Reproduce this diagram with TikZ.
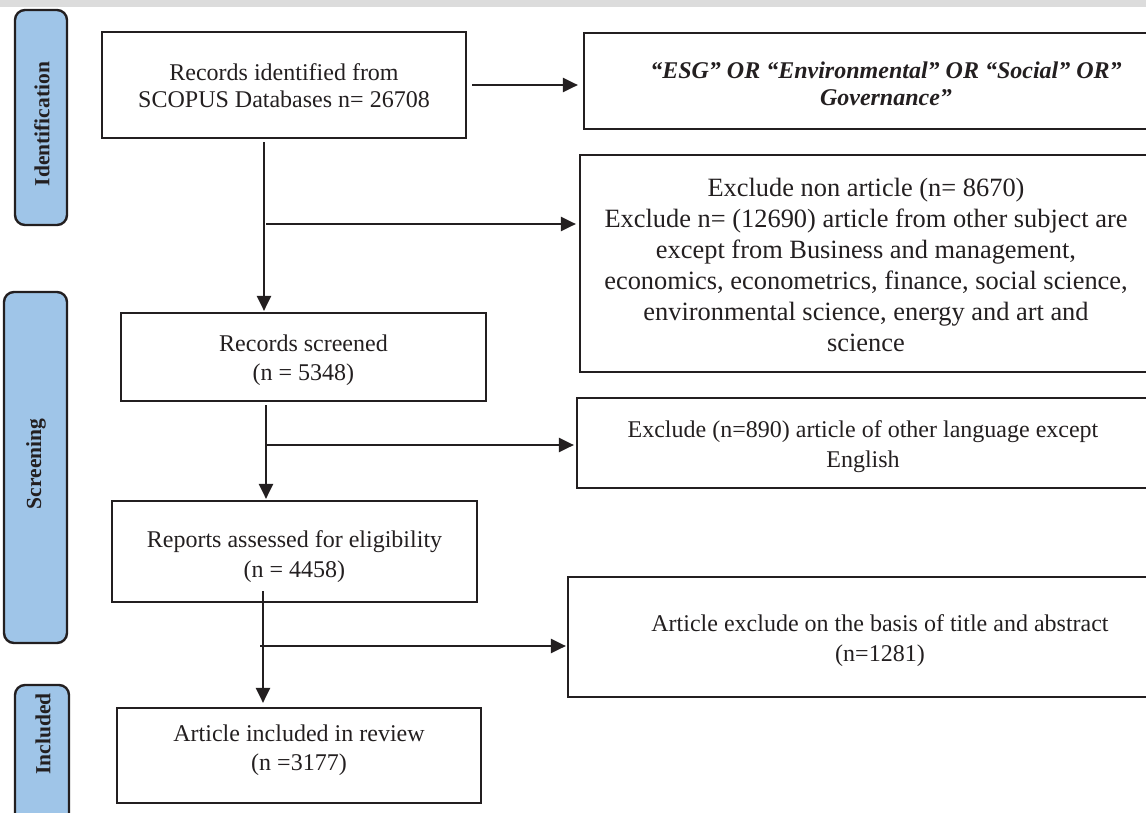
\documentclass[tikz,border=0pt]{standalone}
\usepackage{fontspec}
\setmainfont{Liberation Serif}
\usetikzlibrary{arrows.meta}
\definecolor{ink}{HTML}{231F20}
\definecolor{sideblue}{HTML}{9FC5E8}
\definecolor{band}{HTML}{DCDCDC}
\begin{document}
\begin{tikzpicture}[x=1pt,y=-1pt,
  box/.style={draw=ink, line width=2.2pt, inner sep=0pt},
  lbl/.style={inner sep=0pt, align=center, text=ink, font=\fontsize{24}{29.5}\selectfont},
  biglbl/.style={lbl, font=\fontsize{26.4}{31}\selectfont},
  sidebox/.style={draw=ink, line width=2.4pt, fill=sideblue, rounded corners=10pt, inner sep=0pt},
  sidetext/.style={rotate=90, font=\bfseries\fontsize{21.5}{26}\selectfont, text=ink, inner sep=0pt},
  arr/.style={draw=ink, line width=2.2pt, -{Triangle[length=15pt,width=14pt]}}]
\useasboundingbox (0,0) rectangle (1146,812);
\clip (0,0) rectangle (1146,812);
\fill[band] (0,0) rectangle (1146,7);

% side labels
\node[sidebox, minimum width=52pt, minimum height=215pt] (idbox) at (41,117.5) {};
\node[sidetext] (idtext) at (42,124) {Identification};
\node[sidebox, minimum width=63pt, minimum height=351pt] (scbox) at (35.5,467.5) {};
\node[sidetext] (sctext) at (36,464) {Screening};
\node[sidebox, minimum width=54pt, minimum height=160pt] (inbox) at (42,765) {};
\node[sidetext] (intext) at (43,734) {Included};

% main boxes
\node[box, minimum width=364pt, minimum height=106pt] (B1) at (284,85) {};
\node[lbl, font=\fontsize{24}{27}\selectfont] (T1) at (284,85.5)
  {Records identified from\\SCOPUS Databases n= 26708};
\node[box, minimum width=604pt, minimum height=96pt] (B2) at (886,81) {};
\node[lbl, font=\bfseries\itshape\fontsize{24}{27}\selectfont] (T2) at (886,84)
  {“ESG” OR “Environmental” OR “Social” OR”\\Governance”};
\node[box, minimum width=572pt, minimum height=217pt] (B3) at (866,263.5) {};
\node[biglbl] (T3) at (866,265)
  {Exclude non article (n= 8670)\\
   Exclude n= (12690) article from other subject are\\
   except from Business and management,\\
   economics, econometrics, finance, social science,\\
   environmental science, energy and art and\\
   science};
\node[box, minimum width=365pt, minimum height=88pt] (B4) at (303.5,357) {};
\node[lbl] (T4) at (303.5,360) {Records screened\\(n = 5348)};
\node[box, minimum width=572pt, minimum height=90pt] (B5) at (863,443) {};
\node[lbl] (T5) at (863,446.5) {Exclude (n=890) article of other language except\\English};
\node[box, minimum width=365pt, minimum height=101pt] (B6) at (294.5,551.5) {};
\node[lbl] (T6) at (294.5,556.5) {Reports assessed for eligibility\\(n = 4458)};
\node[box, minimum width=624pt, minimum height=120pt] (B7) at (880,637) {};
\node[lbl] (T7) at (880,640.5) {Article exclude on the basis of title and abstract\\(n=1281)};
\node[box, minimum width=364pt, minimum height=95pt] (B8) at (299,755.5) {};
\node[lbl] (T8) at (299,750) {Article included in review\\(n =3177)};

% connectors
\coordinate (v1) at (264,0);
\coordinate (j1) at (266,224);
\coordinate (v2) at (266,0);
\coordinate (j2) at (266,445);
\coordinate (s3) at (263,591);
\coordinate (j3) at (260,646);

\draw[arr, shorten <=5pt, shorten >=5pt] (B1.east) -- (B1.east -| B2.west);
\draw[arr, shorten <=3pt, shorten >=1pt] (B1.south -| v1) -- (B4.north -| v1);
\draw[arr, shorten >=3pt] (j1) -- (j1 -| B3.west);
\draw[arr, shorten <=3pt, shorten >=1pt] (B4.south -| v2) -- (B6.north -| v2);
\draw[arr, shorten >=2pt] (j2) -- (j2 -| B5.west);
\draw[arr, shorten >=4pt] (s3) -- (B8.north -| s3);
\draw[arr, shorten >=1pt] (j3) -- (j3 -| B7.west);
\end{tikzpicture}
\end{document}
